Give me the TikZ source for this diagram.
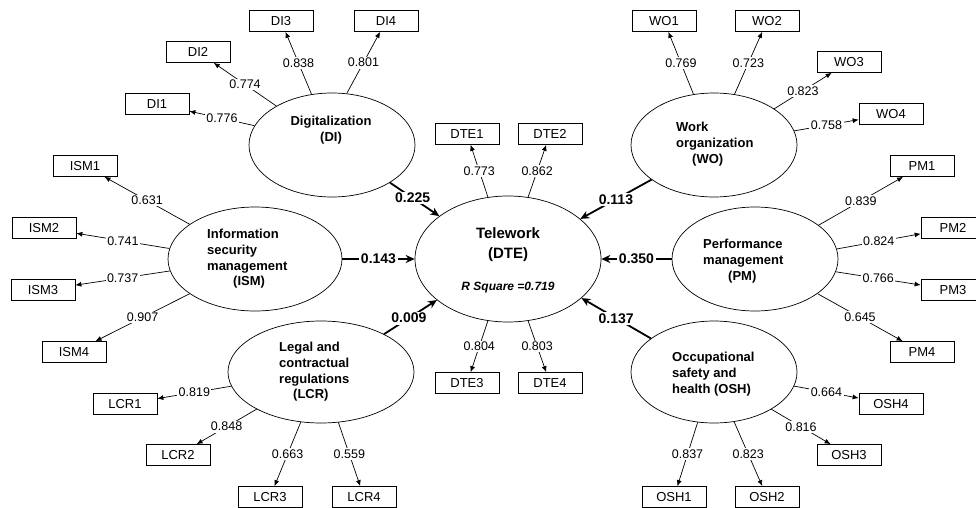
\documentclass[tikz,border=0pt]{standalone}
\usepackage{fontspec}
\setmainfont{Liberation Sans}
\usetikzlibrary{arrows.meta,shapes.geometric}
\begin{document}
\begin{tikzpicture}[x=1pt,y=-1pt,
  lv/.style={ellipse, draw, line width=0.7pt, inner sep=0pt},
  ind/.style={draw, line width=0.7pt, minimum width=64pt, minimum height=21pt, inner sep=0pt, font=\fontsize{13}{15}\selectfont},
  load/.style={line width=0.7pt, -{Latex[length=6pt,width=5pt]}},
  ldlab/.style={fill=white, inner sep=1.5pt, font=\fontsize{12.5}{14}\selectfont},
  struct/.style={line width=1.8pt, -{Stealth[length=9pt,width=8pt]}},
  pathlab/.style={fill=white, inner sep=1.5pt, font=\fontsize{14}{16}\selectfont\bfseries},
  lvtext/.style={inner sep=0pt, font=\fontsize{13}{15.7}\selectfont\bfseries}]
\useasboundingbox (0,0) rectangle (976,508);
\fill[white] (0,0) rectangle (976,508);
% latent variables
\node[lv, minimum width=166pt, minimum height=104pt] (DI) at (332,145) {};
\node[lv, minimum width=174pt, minimum height=104pt] (ISM) at (255,259) {};
\node[lv, minimum width=186pt, minimum height=102pt] (LCR) at (321,372) {};
\node[lv, minimum width=186pt, minimum height=126pt] (DTE) at (508,259) {};
\node[lv, minimum width=166pt, minimum height=104pt] (WO) at (714,145) {};
\node[lv, minimum width=166pt, minimum height=104pt] (PM) at (755,259) {};
\node[lv, minimum width=166pt, minimum height=102pt] (OSH) at (714,372) {};
% latent labels
\node[lvtext, align=center] (DIt) at (331,130) {Digitalization\\(DI)};
\node[lvtext, align=left, anchor=west] (ISMt) at (207,259) {Information\\security\\management\\\hspace*{26pt}(ISM)};
\node[lvtext, align=left, anchor=west] (LCRt) at (279,372) {Legal and\\contractual\\regulations\\\hspace*{14pt}(LCR)};
\node[lvtext, align=left, anchor=west] (WOt) at (676,144) {Work\\organization\\\hspace*{16pt}(WO)};
\node[lvtext, align=left, anchor=west] (PMt) at (703,261) {Performance\\management\\\hspace*{25pt}(PM)};
\node[lvtext, align=left, anchor=west] (OSHt) at (672,374) {Occupational\\safety and\\health (OSH)};
\node[inner sep=0pt, align=center, font=\fontsize{15}{20}\selectfont\bfseries] (DTEt) at (508,245) {Telework\\(DTE)};
\node[inner sep=0pt, font=\fontsize{12}{14}\selectfont\bfseries\itshape] (rsq) at (508,288) {R Square =0.719};
% indicators
\node[ind] (DI1) at (157,104) {DI1};
\node[ind] (DI2) at (198,52) {DI2};
\node[ind] (DI3) at (281,21) {DI3};
\node[ind] (DI4) at (386,21) {DI4};
\node[ind] (ISM1) at (85,166) {ISM1};
\node[ind] (ISM2) at (44,228) {ISM2};
\node[ind] (ISM3) at (43,290) {ISM3};
\node[ind] (ISM4) at (74,352) {ISM4};
\node[ind] (LCR1) at (125,404) {LCR1};
\node[ind] (LCR2) at (178,455) {LCR2};
\node[ind] (LCR3) at (270,497) {LCR3};
\node[ind] (LCR4) at (364,497) {LCR4};
\node[ind] (DTE1) at (467,134) {DTE1};
\node[ind] (DTE2) at (550,134) {DTE2};
\node[ind] (DTE3) at (467,383) {DTE3};
\node[ind] (DTE4) at (550,383) {DTE4};
\node[ind] (WO1) at (664,21) {WO1};
\node[ind] (WO2) at (767,21) {WO2};
\node[ind] (WO3) at (849,62) {WO3};
\node[ind] (WO4) at (891,114) {WO4};
\node[ind] (PM1) at (922,166) {PM1};
\node[ind] (PM2) at (953,228) {PM2};
\node[ind] (PM3) at (953,290) {PM3};
\node[ind] (PM4) at (922,352) {PM4};
\node[ind] (OSH1) at (674,497) {OSH1};
\node[ind] (OSH2) at (767,497) {OSH2};
\node[ind] (OSH3) at (849,455) {OSH3};
\node[ind] (OSH4) at (891,404) {OSH4};
% loadings
\draw[load] (DI.166) -- node[ldlab]{0.776} (DI1);
\draw[load] (DI.145) -- node[ldlab]{0.774} (DI2);
\draw[load] (DI.112) -- node[ldlab]{0.838} (DI3);
\draw[load] (DI.74) -- node[ldlab]{0.801} (DI4);
\draw[load] (ISM.152) -- node[ldlab]{0.631} (ISM1);
\draw[load] (ISM.173) -- node[ldlab]{0.741} (ISM2);
\draw[load] (ISM.188) -- node[ldlab]{0.737} (ISM3);
\draw[load] (ISM.208) -- node[ldlab]{0.907} (ISM4);
\draw[load] (LCR.189) -- node[ldlab]{0.819} (LCR1);
\draw[load] (LCR.210) -- node[ldlab]{0.848} (LCR2);
\draw[load] (LCR.248) -- node[ldlab]{0.663} (LCR3);
\draw[load] (LCR.289) -- node[ldlab]{0.559} (LCR4);
\draw[load] (DTE.108) -- node[ldlab]{0.773} (DTE1);
\draw[load] (DTE.72) -- node[ldlab]{0.862} (DTE2);
\draw[load] (DTE.252) -- node[ldlab]{0.804} (DTE3);
\draw[load] (DTE.288) -- node[ldlab]{0.803} (DTE4);
\draw[load] (WO.112) -- node[ldlab]{0.769} (WO1);
\draw[load] (WO.68) -- node[ldlab]{0.723} (WO2);
\draw[load] (WO.31) -- node[ldlab]{0.823} (WO3);
\draw[load] (WO.10) -- node[ldlab]{0.758} (WO4);
\draw[load] (PM.28) -- node[ldlab]{0.839} (PM1);
\draw[load] (PM.7) -- node[ldlab]{0.824} (PM2);
\draw[load] (PM.351) -- node[ldlab]{0.766} (PM3);
\draw[load] (PM.331) -- node[ldlab]{0.645} (PM4);
\draw[load] (OSH.350) -- node[ldlab]{0.664} (OSH4);
\draw[load] (OSH.327) -- node[ldlab]{0.816} (OSH3);
\draw[load] (OSH.292) -- node[ldlab]{0.823} (OSH2);
\draw[load] (OSH.252) -- node[ldlab]{0.837} (OSH1);
% structural paths
\draw[struct] (DI.327) -- node[pathlab, pos=0.46]{0.225} (DTE.148);
\draw[struct] (ISM.east) -- node[pathlab]{0.143} (DTE.west);
\draw[struct] (LCR.31) -- node[pathlab, pos=0.47]{0.009} (DTE.210);
\draw[struct] (WO.209) -- node[pathlab]{0.113} (DTE.29);
\draw[struct] (PM.west) -- node[pathlab]{0.350} (DTE.east);
\draw[struct] (OSH.152) -- node[pathlab]{0.137} (DTE.332);
\end{tikzpicture}
\end{document}
